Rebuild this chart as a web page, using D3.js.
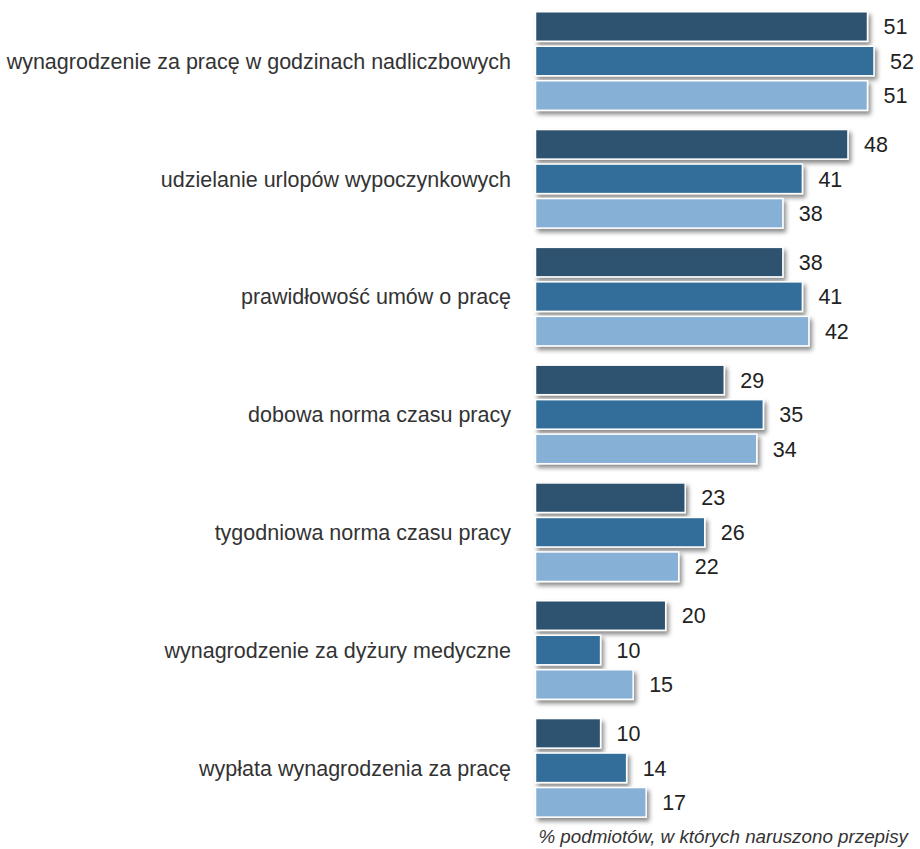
<!DOCTYPE html>
<html><head><meta charset="utf-8">
<script src="https://cdn.jsdelivr.net/npm/d3@7"></script>
<style>body{margin:0;background:#fff;} svg{display:block;font-family:"Liberation Sans",Arial,Helvetica,sans-serif;}</style>
</head><body><svg id="c" width="920" height="849"></svg>
<script>
const categories = [
  "wynagrodzenie za pracę w godzinach nadliczbowych",
  "udzielanie urlopów wypoczynkowych",
  "prawidłowość umów o pracę",
  "dobowa norma czasu pracy",
  "tygodniowa norma czasu pracy",
  "wynagrodzenie za dyżury medyczne",
  "wypłata wynagrodzenia za pracę"
];
const seriesNames = ["s1", "s2", "s3"];
const series1 = [51, 48, 38, 29, 23, 20, 10];
const series2 = [52, 41, 41, 35, 26, 10, 14];
const series3 = [51, 38, 42, 34, 22, 15, 17];
const colors = ["#2e526f", "#336e99", "#86b0d6"];
const footnote = "% podmiotów, w których naruszono przepisy";

const svg = d3.select("#c");
const defs = svg.append("defs");
const f = defs.append("filter").attr("id","sh").attr("x","-10%").attr("y","-30%").attr("width","130%").attr("height","190%");
f.append("feDropShadow").attr("dx",2.5).attr("dy",3.5).attr("stdDeviation",2.2).attr("flood-color","#000").attr("flood-opacity",0.45);

const x = d3.scaleLinear().domain([0, 52]).range([535.5, 874]);
const y0 = d3.scaleBand().domain(categories).range([11, 11 + 7 * 117.8]).paddingInner(0).paddingOuter(0);
const y1 = d3.scaleBand().domain(seriesNames).range([0, 34.5 * 2.9]).paddingInner(0.1).paddingOuter(0);
const allSeries = [series1, series2, series3];

const rows = categories.map((c, i) => ({cat: c, vals: allSeries.map((s, k) => ({key: seriesNames[k], v: s[i], k}))}));

const g = svg.selectAll("g.grp").data(rows).join("g").attr("class","grp")
  .attr("transform", d => `translate(0,${y0(d.cat)})`);

g.selectAll("rect").data(d => d.vals).join("rect")
  .attr("x", x(0))
  .attr("y", d => y1(d.key) + 0.75)
  .attr("width", d => x(d.v) - x(0))
  .attr("height", y1.bandwidth() - 1.5)
  .attr("fill", d => colors[d.k])
  .attr("stroke", "#fff")
  .attr("stroke-width", 1.5)
  .attr("filter", "url(#sh)");

g.selectAll("text.val").data(d => d.vals).join("text").attr("class","val")
  .attr("x", d => x(d.v) + 16)
  .attr("y", d => y1(d.key) + y1.bandwidth() / 2)
  .attr("dy", "0.36em")
  .attr("font-size", 21.5)
  .attr("fill", "#222")
  .text(d => d.v);

g.append("text")
  .attr("x", 511)
  .attr("y", y1("s2") + y1.bandwidth() / 2)
  .attr("dy", "0.36em")
  .attr("text-anchor", "end")
  .attr("font-size", 21.5)
  .attr("fill", "#333")
  .text(d => d.cat);

svg.append("text")
  .attr("x", 908).attr("y", 843)
  .attr("text-anchor", "end")
  .attr("font-size", 18.8)
  .attr("font-style", "italic")
  .attr("fill", "#333")
  .text(footnote);
</script></body></html>
